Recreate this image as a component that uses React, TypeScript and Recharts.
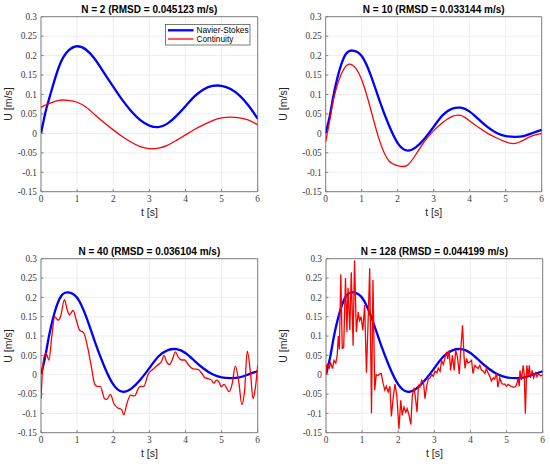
import React from 'react';
import { LineChart, Line, XAxis, YAxis, CartesianGrid, ReferenceArea } from 'recharts';

// time grid for the smooth curves
const T_SMOOTH = [0, 0.125, 0.25, 0.5, 0.75, 1, 1.25, 1.5, 1.75, 2, 2.25, 2.5, 2.75, 3, 3.25, 3.5, 3.75, 4, 4.25, 4.5, 4.75, 5, 5.25, 5.5, 5.75, 6];

// N = 2
const NS_N2 = [0, 0.055, 0.097, 0.172, 0.212, 0.224, 0.215, 0.19, 0.155, 0.12, 0.086, 0.057, 0.034, 0.02, 0.016, 0.025, 0.045, 0.07, 0.095, 0.113, 0.122, 0.122, 0.114, 0.097, 0.071, 0.038];
const CONT_N2 = [0.067, 0.073, 0.078, 0.085, 0.085, 0.08, 0.067, 0.047, 0.027, 0.009, -0.008, -0.023, -0.034, -0.039, -0.038, -0.031, -0.018, -0.004, 0.01, 0.022, 0.033, 0.04, 0.042, 0.04, 0.034, 0.022];

// Navier-Stokes reference for N = 10, 40, 128
const NS_REF = [0, 0.05, 0.113, 0.194, 0.213, 0.199, 0.15, 0.083, 0.022, -0.025, -0.044, -0.036, -0.013, 0.017, 0.047, 0.063, 0.066, 0.056, 0.036, 0.016, 0.001, -0.007, -0.009, -0.007, 0.001, 0.009];

// N = 10
const CONT_N10 = [-0.021, 0.04, 0.1, 0.165, 0.175, 0.138, 0.062, -0.02, -0.07, -0.083, -0.083, -0.055, -0.02, 0.007, 0.028, 0.043, 0.046, 0.032, 0.015, 0.0, -0.012, -0.022, -0.026, -0.017, -0.006, 0.0];

// N = 40
const T_N40 = [0, 0.04, 0.08, 0.14, 0.22, 0.3, 0.38, 0.47, 0.54, 0.65, 0.72, 0.79, 0.89, 0.98, 1.07, 1.18, 1.28, 1.39, 1.49, 1.56, 1.64, 1.76, 1.82, 1.92, 2.02, 2.13, 2.23, 2.29, 2.39, 2.48, 2.59, 2.73, 2.85, 2.96, 3.1, 3.26, 3.33, 3.41, 3.47, 3.56, 3.64, 3.72, 3.81, 3.89, 3.98, 4.07, 4.21, 4.35, 4.44, 4.54, 4.63, 4.72, 4.79, 4.86, 4.93, 4.99, 5.07, 5.13, 5.21, 5.29, 5.38, 5.48, 5.56, 5.64, 5.71, 5.8, 5.87, 5.93, 6];
const CONT_N40 = [-0.062, 0.01, 0.045, 0.056, 0.038, 0.1, 0.15, 0.141, 0.15, 0.194, 0.17, 0.155, 0.166, 0.14, 0.115, 0.109, 0.076, 0.023, -0.025, -0.03, -0.03, -0.062, -0.064, -0.051, -0.075, -0.086, -0.09, -0.104, -0.071, -0.053, -0.055, -0.031, -0.03, 0.0, 0.014, 0.027, 0.033, 0.05, 0.035, 0.026, 0.04, 0.059, 0.044, 0.038, 0.038, 0.027, 0.015, 0.014, 0.005, -0.008, -0.01, -0.014, -0.022, -0.014, -0.019, -0.031, -0.025, -0.033, -0.044, -0.025, 0.022, -0.021, -0.077, -0.038, 0.061, 0.005, -0.062, -0.038, 0.025];

// N = 128
const T_N128 = [0, 0.02, 0.05, 0.09, 0.13, 0.18, 0.22, 0.27, 0.31, 0.34, 0.37, 0.41, 0.45, 0.49, 0.54, 0.58, 0.61, 0.66, 0.7, 0.75, 0.79, 0.84, 0.89, 0.93, 0.97, 1.02, 1.07, 1.12, 1.16, 1.21, 1.26, 1.3, 1.35, 1.39, 1.44, 1.49, 1.53, 1.58, 1.63, 1.67, 1.72, 1.77, 1.81, 1.86, 1.91, 1.96, 2.02, 2.07, 2.11, 2.16, 2.21, 2.25, 2.3, 2.35, 2.39, 2.44, 2.48, 2.52, 2.56, 2.6, 2.65, 2.7, 2.74, 2.79, 2.83, 2.88, 2.93, 2.97, 3.02, 3.07, 3.11, 3.16, 3.2, 3.25, 3.3, 3.34, 3.37, 3.41, 3.45, 3.5, 3.55, 3.59, 3.64, 3.69, 3.73, 3.78, 3.82, 3.85, 3.89, 3.93, 3.98, 4.03, 4.07, 4.12, 4.16, 4.21, 4.26, 4.3, 4.35, 4.4, 4.44, 4.49, 4.53, 4.58, 4.63, 4.67, 4.72, 4.76, 4.81, 4.86, 4.9, 4.95, 5, 5.04, 5.09, 5.13, 5.18, 5.23, 5.27, 5.32, 5.35, 5.37, 5.41, 5.46, 5.49, 5.52, 5.56, 5.6, 5.63, 5.66, 5.71, 5.75, 5.8, 5.84, 5.89, 5.94, 6];
const CONT_N128 = [0, 0.025, 0.028, 0.018, 0.03, 0.016, 0.037, 0.03, 0.05, 0.1, 0.065, 0.26, 0.068, 0.07, 0.25, 0.11, 0.225, 0.115, 0.265, 0.075, 0.295, 0.11, 0.162, 0.14, 0.15, 0.115, 0.18, 0.005, 0.12, 0.275, -0.1, 0.245, -0.04, 0.0, -0.002, 0.002, 0.003, -0.022, -0.04, -0.03, -0.045, -0.03, -0.108, -0.06, -0.024, -0.054, -0.14, -0.066, -0.105, -0.084, -0.097, -0.088, -0.105, -0.129, -0.054, -0.034, -0.062, -0.097, -0.028, -0.032, -0.014, -0.02, -0.062, -0.028, -0.012, -0.008, 0.0, -0.004, 0.009, 0.005, 0.017, 0.009, 0.036, 0.026, 0.046, 0.059, 0.04, 0.063, 0.011, 0.05, 0.011, 0.063, 0.046, 0.002, 0.063, 0.128, 0.05, 0.016, 0.042, 0.03, 0.033, 0.037, 0.003, 0.024, 0.02, 0.016, 0.024, 0.012, 0.01, 0.003, 0.016, 0.004, -0.003, -0.016, -0.008, -0.012, 0.003, -0.032, -0.008, -0.021, -0.025, -0.024, -0.03, -0.025, -0.028, -0.03, -0.032, -0.032, -0.028, -0.01, -0.03, 0.011, -0.014, 0.024, 0.0, -0.101, 0.024, -0.003, 0.024, -0.008, 0.011, -0.008, 0.005, -0.005, 0.003, -0.003, 0.0];

const X_TICKS = [0, 1, 2, 3, 4, 5, 6];
const Y_TICKS = [-0.15, -0.1, -0.05, 0, 0.05, 0.1, 0.15, 0.2, 0.25, 0.3];
const TITLES = [
  'N = 2 (RMSD = 0.045123 m/s)',
  'N = 10 (RMSD = 0.033144 m/s)',
  'N = 40 (RMSD = 0.036104 m/s)',
  'N = 128 (RMSD = 0.044199 m/s)',
];
const LEGEND_LABELS = ['Navier-Stokes', 'Continuity'];
const X_LABEL = 't [s]';
const Y_LABEL = 'U [m/s]';

const zip = (t: number[], u: number[]) => t.map((x, i) => ({ t: x, u: u[i] }));
const fmtY = (v: number) => String(Number(v.toFixed(2)));

const SANS = '"Liberation Sans", Arial, sans-serif';
const SERIF = '"Liberation Serif", "Times New Roman", serif';

type PanelProps = {
  left: number;
  top: number;
  plotL: number;
  plotR: number;
  plotT: number;
  plotB: number;
  title: string;
  ns: { t: number; u: number }[];
  cont: { t: number; u: number }[];
  contType: 'monotone' | 'linear' | 'natural';
  legend?: boolean;
};

function Panel({ left, top, plotL, plotR, plotT, plotB, title, ns, cont, contType, legend }: PanelProps) {
  const W = 275;
  const H = 232;
  const YW = 30;
  const XH = 20;
  const margin = { left: plotL - YW, right: W - plotR, top: plotT, bottom: H - plotB - XH };
  const cx = (plotL + plotR) / 2;
  const cy = (plotT + plotB) / 2;
  const tickStyle = { fontFamily: SERIF, fontSize: 9.3, fill: '#3a3a3a' };
  return (
    <div style={{ position: 'absolute', left, top, width: W, height: H }}>
      <LineChart width={W} height={H} margin={margin}>
        <CartesianGrid stroke="#e8e8e8" strokeWidth={0.8} />
        <XAxis
          dataKey="t"
          type="number"
          domain={[0, 6]}
          ticks={X_TICKS}
          allowDataOverflow
          height={XH}
          axisLine={false}
          tickLine={{ stroke: '#808080' }}
          tickSize={-2.5}
          tickMargin={6}
          tick={tickStyle}
          interval={0}
        />
        <YAxis
          type="number"
          domain={[-0.15, 0.3]}
          ticks={Y_TICKS}
          allowDataOverflow
          width={YW}
          axisLine={false}
          tickLine={{ stroke: '#808080' }}
          tickSize={-2.5}
          tickMargin={6.5}
          tick={tickStyle}
          tickFormatter={fmtY}
          interval={0}
        />
        <ReferenceArea x1={0} x2={6} y1={-0.15} y2={0.3} fill="none" fillOpacity={0} stroke="#808080" strokeWidth={1} ifOverflow="visible" />
        <Line data={ns} dataKey="u" type="natural" stroke="#0000ff" strokeWidth={2.3} dot={false} activeDot={false} isAnimationActive={false} />
        <Line data={cont} dataKey="u" type={contType} stroke="#ff0000" strokeWidth={1.3} dot={false} activeDot={false} isAnimationActive={false} />
      </LineChart>
      <div
        style={{
          position: 'absolute', left: cx - 120, width: 240, top: plotT - 14, height: 14, lineHeight: '14px',
          textAlign: 'center', fontFamily: SANS, fontWeight: 'bold', fontSize: 10, color: '#000', whiteSpace: 'nowrap',
        }}
      >
        {title}
      </div>
      <div
        style={{
          position: 'absolute', left: cx - 40, width: 80, top: plotB + 13.5, height: 14, lineHeight: '14px',
          textAlign: 'center', fontFamily: SANS, fontSize: 10.5, color: '#262626',
        }}
      >
        {X_LABEL}
      </div>
      <div
        style={{
          position: 'absolute', left: 8.4 - 40, width: 80, top: cy - 7, height: 14, lineHeight: '14px',
          textAlign: 'center', fontFamily: SANS, fontSize: 10.5, color: '#262626', transform: 'rotate(-90deg)',
        }}
      >
        {Y_LABEL}
      </div>
      {legend && (
        <svg width={86} height={22} style={{ position: 'absolute', left: 165, top: 24 }}>
          <rect x={0.5} y={0.5} width={84.5} height={20.5} fill="#fff" stroke="#5a5a5a" strokeWidth={0.8} />
          <line x1={3} x2={28.5} y1={6.3} y2={6.3} stroke="#0000ff" strokeWidth={2.3} />
          <line x1={3} x2={28.5} y1={15} y2={15} stroke="#ff0000" strokeWidth={1.3} />
          <text x={31.5} y={9.2} fontFamily={SANS} fontSize={8.3} fill="#000">{LEGEND_LABELS[0]}</text>
          <text x={31.5} y={17.9} fontFamily={SANS} fontSize={8.3} fill="#000">{LEGEND_LABELS[1]}</text>
        </svg>
      )}
    </div>
  );
}

export default function App() {
  return (
    <div style={{ position: 'absolute', left: 0, top: 0, width: 550, height: 464, background: '#fff', overflow: 'hidden' }}>
      <Panel left={0} top={0} plotL={41} plotR={257.7} plotT={16.7} plotB={191.7} title={TITLES[0]}
        ns={zip(T_SMOOTH, NS_N2)} cont={zip(T_SMOOTH, CONT_N2)} contType="natural" legend />
      <Panel left={275} top={0} plotL={50.7} plotR={266.7} plotT={16.7} plotB={191.7} title={TITLES[1]}
        ns={zip(T_SMOOTH, NS_REF)} cont={zip(T_SMOOTH, CONT_N10)} contType="natural" />
      <Panel left={0} top={232} plotL={41} plotR={257.7} plotT={26.7} plotB={200.7} title={TITLES[2]}
        ns={zip(T_SMOOTH, NS_REF)} cont={zip(T_N40, CONT_N40)} contType="monotone" />
      <Panel left={275} top={232} plotL={51} plotR={267.7} plotT={26.7} plotB={200.7} title={TITLES[3]}
        ns={zip(T_SMOOTH, NS_REF)} cont={zip(T_N128, CONT_N128)} contType="linear" />
    </div>
  );
}
